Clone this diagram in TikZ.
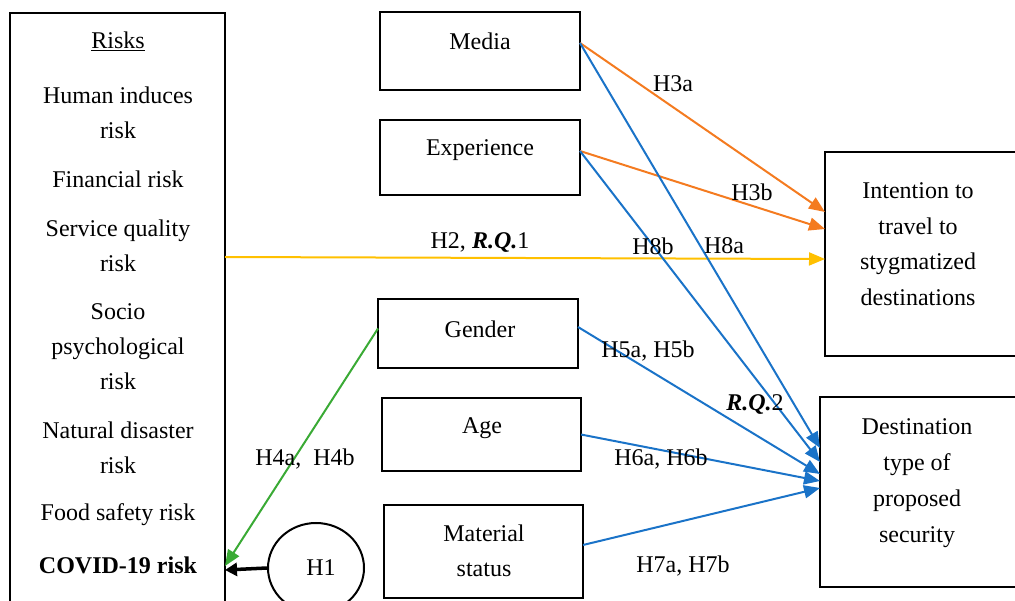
\documentclass[tikz,border=0pt]{standalone}
\usepackage{fontspec}
\setmainfont{Liberation Serif}
\usetikzlibrary{arrows.meta,calc,shapes.geometric}
\definecolor{myorange}{HTML}{F47B20}
\definecolor{myblue}{HTML}{1A73C8}
\definecolor{myyellow}{HTML}{FFC000}
\definecolor{mygreen}{HTML}{3AAA35}
\tikzset{
  box/.style={draw, line width=2pt, inner sep=0pt, outer sep=0pt, anchor=north west},
  txt/.style={font=\fontsize{24}{35}\selectfont, align=center, inner sep=0pt},
  arr/.style={line width=2pt, -{Triangle[length=16pt,width=13pt]}},
}
\begin{document}
\begin{tikzpicture}[x=1pt,y=-1pt]
\useasboundingbox (0,0) rectangle (1015,601);
\clip (0,0) rectangle (1015,601);
% boxes
\node[box, minimum width=215pt, minimum height=640pt] (risks) at (10,13) {};
\node[box, minimum width=200pt, minimum height=78pt] (media) at (380,12) {};
\node[box, minimum width=200pt, minimum height=75pt] (exper) at (380,120) {};
\node[box, minimum width=200pt, minimum height=69pt] (gender) at (378,299) {};
\node[box, minimum width=199pt, minimum height=73pt] (age) at (382,398) {};
\node[box, minimum width=199pt, minimum height=93pt] (mat) at (384,505) {};
\node[box, minimum width=220pt, minimum height=204pt] (intent) at (825,152) {};
\node[box, minimum width=225pt, minimum height=190pt] (dest) at (820,397) {};
\node[draw, line width=2pt, ellipse, minimum width=96pt, minimum height=90pt, inner sep=0pt] (h1) at (316,568) {};
% box texts
\node[txt] (risksT) at (118,41) {\underline{Risks}};
\node[txt] (r1) at (118,112.5) {Human induces\\risk};
\node[txt] (r2) at (118,179) {Financial risk};
\node[txt] (r3) at (118,245.5) {Service quality\\risk};
\node[txt] (r4) at (118,346.5) {Socio\\psychological\\risk};
\node[txt] (r5) at (118,448) {Natural disaster\\risk};
\node[txt] (r6) at (118,515) {Food safety risk};
\node[txt] (covid) at (118,565) {\textbf{COVID-19 risk}};
\node[txt] (mediaT) at (480,41) {Media};
\node[txt] (experT) at (480,150) {Experience};
\node[txt] (genderT) at (480,329) {Gender};
\node[txt] (ageT) at (482,428) {Age};
\node[txt] (matT) at (484,551) {Material\\status};
\node[txt, font=\fontsize{24}{35.5}\selectfont] (intentT) at (918,244) {Intention to\\travel to\\stygmatized\\destinations};
\node[txt, font=\fontsize{24}{36}\selectfont] (destT) at (917,483) {Destination\\type of\\proposed\\security};
\node[txt] (h1T) at (321,568) {H1};
% connectors
\draw[arr, myorange] ([yshift=8pt]media.east) -- ([yshift=42pt]intent.west);
\draw[arr, myorange] ([yshift=6.5pt]exper.east) -- ([yshift=25pt]intent.west);
\draw[arr, myyellow] ([yshift=-244pt]risks.north east) -- ([yshift=-5pt]intent.west);
\draw[arr, myblue] ([yshift=8pt]media.east) -- ([yshift=44pt]dest.west);
\draw[arr, myblue] ([yshift=6.5pt]exper.east) -- ([yshift=30pt]dest.west);
\draw[arr, myblue] ([yshift=6.5pt]gender.east) -- ([yshift=18pt]dest.west);
\draw[arr, myblue] (age.east) -- ([yshift=11pt]dest.west);
\draw[arr, myblue] ([yshift=6.5pt]mat.east) -- ([yshift=4pt]dest.west);
\draw[arr, mygreen] ([yshift=5pt]gender.west) -- ([yshift=-553pt]risks.north east);
\draw[line width=3.5pt, -{Triangle[length=12pt,width=13pt]}] (h1.west) -- ([yshift=-557pt]risks.north east);
% labels
\node[txt] (lH3a) at (673,84) {H3a};
\node[txt] (lH3b) at (752,192) {H3b};
\node[txt] (lH2) at (480,243) {H2, \textbf{\textit{R.Q.}}1};
\node[txt] (lH8b) at (653,246) {H8b};
\node[txt] (lH8a) at (724,246) {H8a};
\node[txt] (lH5) at (648,351) {H5a, H5b};
\node[txt] (lRQ2) at (755,405) {\textbf{\textit{R.Q.}}2};
\node[txt] (lH6) at (661,459) {H6a, H6b};
\node[txt] (lH7) at (683,566) {H7a, H7b};
\node[txt] (lH4) at (305,459) {H4a,~ H4b};
\end{tikzpicture}
\end{document}
